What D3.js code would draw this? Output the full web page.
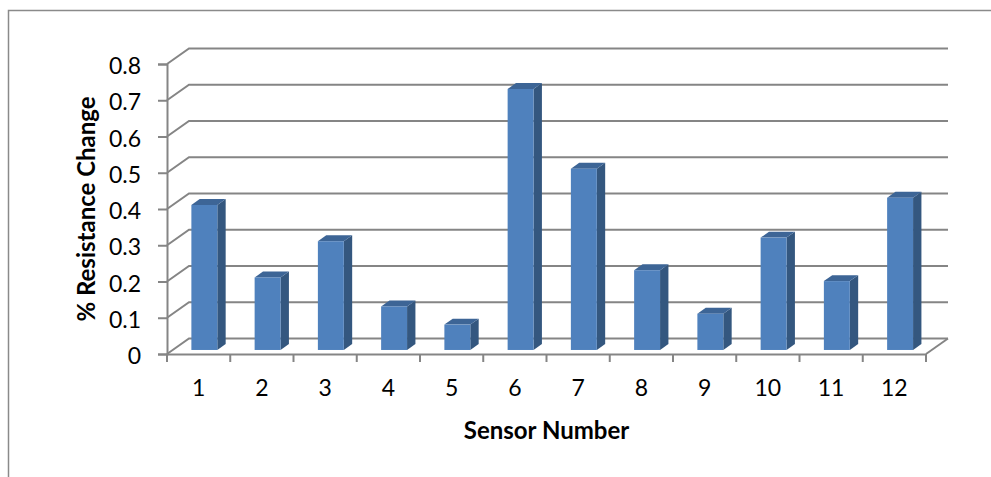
<!DOCTYPE html>
<html>
<head>
<meta charset="utf-8">
<script src="https://cdn.jsdelivr.net/npm/d3@7"></script>
<style>
  body { margin: 0; background: #fff; }
  svg { display: block; font-family: Lato, "Open Sans", sans-serif; }
</style>
</head>
<body>
<script>
// data
var sensors = ["1", "2", "3", "4", "5", "6", "7", "8", "9", "10", "11", "12"];
var resistanceChange = [0.4, 0.2, 0.3, 0.12, 0.07, 0.72, 0.5, 0.22, 0.1, 0.31, 0.19, 0.42];
var yTicks = [0, 0.1, 0.2, 0.3, 0.4, 0.5, 0.6, 0.7, 0.8];

var width = 991,
    height = 477;

// depth vector of the 3d box (front plane -> back wall)
var depth = { x: 22, y: -15.5 };
var barFront = 0.26,
    barBack = 0.64;

var gridColor = "#858585";

var svg = d3.select("body")
    .append("svg")
    .attr("width", width)
    .attr("height", height);

// outer chart border (runs off the right/bottom edge)
svg.append("rect")
    .attr("x", 8.5)
    .attr("y", 10.5)
    .attr("width", 1000)
    .attr("height", 500)
    .attr("fill", "none")
    .attr("stroke", "#8a8a8a")
    .attr("stroke-width", 1.5);

var x = d3.scaleBand()
    .domain(sensors)
    .range([167, 926]);

var y = d3.scaleLinear()
    .domain([0, 0.8])
    .range([354, 64]);

var x0 = x.range()[0],
    x1 = x.range()[1];

var grid = svg.append("g")
    .attr("stroke", gridColor)
    .attr("fill", "none")
    .attr("stroke-width", 2);

// back wall grid lines + left wall diagonals
yTicks.forEach(function (t) {
    grid.append("path")
        .attr("d", "M" + x0 + "," + y(t) +
            "L" + (x0 + depth.x) + "," + (y(t) + depth.y) +
            "L" + (x1 + depth.x) + "," + (y(t) + depth.y));
});

// floor right edge
grid.append("path")
    .attr("d", "M" + x1 + "," + y(0) + "L" + (x1 + depth.x) + "," + (y(0) + depth.y));

// y axis (front)
var yAxis = d3.axisLeft(y)
    .tickValues(yTicks)
    .tickSize(9)
    .tickPadding(17)
    .tickFormat(function (d) { return d === 0 ? "0" : d3.format(".1f")(d); });

var yG = svg.append("g")
    .attr("transform", "translate(" + x0 + ",0)")
    .call(yAxis);
yG.select(".domain").attr("stroke", gridColor).attr("stroke-width", 2);
yG.selectAll(".tick line").attr("stroke", gridColor).attr("stroke-width", 2);
yG.selectAll(".tick text")
    .attr("fill", "#000")
    .attr("font-size", 23)
    .attr("font-family", "Lato, sans-serif")
    .attr("dy", "0.42em");

// x axis (front)
var xAxis = d3.axisBottom(x)
    .tickSize(0)
    .tickPadding(26);

var xG = svg.append("g")
    .attr("transform", "translate(0," + y(0) + ")")
    .call(xAxis);
xG.select(".domain").attr("stroke", gridColor).attr("stroke-width", 2);
xG.selectAll(".tick text")
    .attr("fill", "#000")
    .attr("font-size", 23)
    .attr("font-family", "Lato, sans-serif");

// category boundary ticks
xG.selectAll(".bound")
    .data(sensors.concat(["end"]))
    .enter().append("line")
    .attr("class", "bound")
    .attr("x1", function (d, i) { return x0 + i * x.step(); })
    .attr("x2", function (d, i) { return x0 + i * x.step(); })
    .attr("y1", 0)
    .attr("y2", 8)
    .attr("stroke", gridColor)
    .attr("stroke-width", 2);

// 3d bars
var barW = x.bandwidth() * 0.41;
var dd = { x: (barBack - barFront) * depth.x, y: (barBack - barFront) * depth.y };

var bars = svg.append("g")
    .selectAll("g")
    .data(resistanceChange)
    .enter().append("g");

function frontLeft(i) {
    return x(sensors[i]) + (x.bandwidth() - barW) / 2 + barFront * depth.x;
}
function frontY(v) {
    return y(v) + barFront * depth.y;
}

// side face
bars.append("path")
    .attr("fill", "#34577F")
    .attr("d", function (d, i) {
        var r = frontLeft(i) + barW, t = frontY(d), b = frontY(0);
        return "M" + r + "," + t + "L" + (r + dd.x) + "," + (t + dd.y) +
            "L" + (r + dd.x) + "," + (b + dd.y) + "L" + r + "," + b + "Z";
    });

// top face
bars.append("path")
    .attr("fill", "#3D6596")
    .attr("d", function (d, i) {
        var l = frontLeft(i), r = l + barW, t = frontY(d);
        return "M" + l + "," + t + "L" + r + "," + t +
            "L" + (r + dd.x) + "," + (t + dd.y) + "L" + (l + dd.x) + "," + (t + dd.y) + "Z";
    });

// front face
bars.append("rect")
    .attr("fill", "#4F81BD")
    .attr("x", function (d, i) { return frontLeft(i); })
    .attr("y", function (d) { return frontY(d); })
    .attr("width", barW)
    .attr("height", function (d) { return frontY(0) - frontY(d); });

// axis titles
svg.append("text")
    .attr("x", (x0 + x1) / 2)
    .attr("y", 439)
    .attr("text-anchor", "middle")
    .attr("font-size", 24)
    .attr("font-weight", "bold")
    .text("Sensor Number");

svg.append("text")
    .attr("transform", "translate(95," + (y(0) + y(0.8)) / 2 + ") rotate(-90)")
    .attr("text-anchor", "middle")
    .attr("font-size", 24)
    .attr("font-weight", "bold")
    .text("% Resistance Change");
</script>
</body>
</html>
